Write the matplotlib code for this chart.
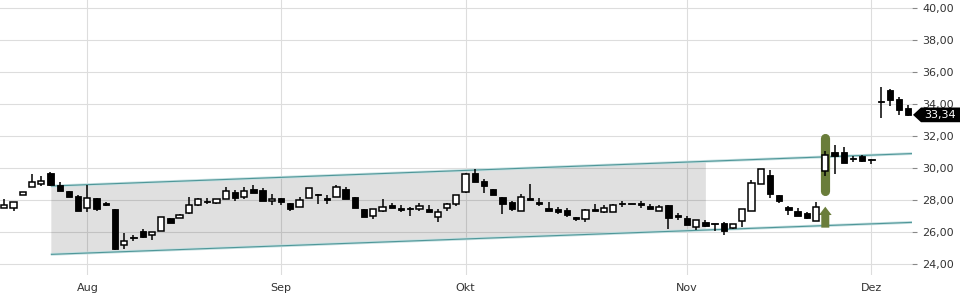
import matplotlib
matplotlib.use("Agg")
import matplotlib.pyplot as plt
from matplotlib.patches import Rectangle, Polygon, FancyArrow
from matplotlib.ticker import FuncFormatter
from matplotlib.transforms import blended_transform_factory

# daily candles (trading days, index 0..98)
opens = [27.53, 27.53, 28.36, 28.84, 29.00, 29.70, 28.98, 28.60, 28.25, 27.53,
         28.17, 27.82, 27.43, 25.22, 25.74, 26.06, 25.86, 26.05, 26.91, 26.91,
         27.22, 27.72, 27.94, 27.82, 28.09, 28.53, 28.19, 28.71, 28.67, 27.94,
         28.15, 27.80, 27.60, 28.15, 28.38, 28.15, 28.22, 28.73, 28.22, 27.47,
         27.02, 27.32, 27.68, 27.49, 27.53, 27.47, 27.43, 26.98, 27.53, 27.74,
         28.50, 29.70, 29.23, 28.71, 28.22, 27.88, 27.32, 28.15, 27.92, 27.53,
         27.43, 27.37, 26.98, 26.85, 27.43, 27.26, 27.28, 27.86, 27.80, 27.84,
         27.66, 27.32, 27.68, 27.06, 26.91, 26.36, 26.64, 26.54, 26.56, 26.29,
         26.71, 27.32, 29.00, 29.56, 28.31, 27.58, 27.31, 27.20, 26.69, 29.83,
         31.02, 31.02, 30.60, 30.75, 30.58, 34.18, 34.89, 34.35, 33.77]
highs = [28.05, 27.88, 28.50, 29.66, 29.50, 29.79, 29.12, 28.60, 28.30, 28.98,
         28.17, 27.90, 27.43, 25.94, 25.86, 26.20, 26.00, 26.98, 26.91, 27.16,
         28.22, 28.12, 28.17, 28.09, 28.84, 28.63, 28.84, 28.98, 28.77, 28.40,
         28.15, 27.85, 28.22, 28.77, 28.42, 28.35, 28.98, 28.84, 28.22, 27.47,
         27.43, 28.09, 27.85, 27.72, 27.55, 27.80, 27.68, 27.43, 27.85, 28.30,
         29.70, 29.95, 29.30, 28.71, 28.22, 27.94, 28.40, 29.04, 28.15, 27.88,
         27.60, 27.53, 26.98, 27.43, 27.74, 27.68, 27.78, 27.98, 27.80, 27.94,
         27.78, 27.68, 27.68, 27.22, 27.00, 26.79, 26.75, 26.54, 26.65, 26.54,
         27.47, 29.29, 29.94, 29.90, 28.31, 27.64, 27.50, 27.25, 27.87, 31.10,
         31.46, 31.31, 30.75, 30.80, 30.58, 35.06, 34.95, 34.45, 33.96]
lows = [27.53, 27.32, 28.30, 28.84, 28.92, 28.90, 28.56, 28.20, 27.32, 27.26,
        27.32, 27.65, 24.90, 24.95, 25.43, 25.65, 25.53, 26.05, 26.58, 26.91,
        27.12, 27.63, 27.76, 27.76, 28.09, 27.94, 28.05, 28.47, 27.94, 27.70,
        27.70, 27.32, 27.60, 28.15, 27.78, 27.78, 28.22, 28.09, 27.53, 26.98,
        26.81, 27.26, 27.50, 27.26, 27.02, 27.30, 27.28, 26.64, 27.32, 27.65,
        28.44, 29.12, 28.47, 28.36, 27.16, 27.36, 27.32, 28.00, 27.65, 27.32,
        27.12, 26.98, 26.69, 26.64, 27.32, 27.20, 27.28, 27.60, 27.80, 27.53,
        27.45, 27.32, 26.19, 26.77, 26.48, 26.15, 26.34, 26.09, 25.84, 26.19,
        26.33, 27.32, 29.00, 28.16, 27.85, 27.10, 27.00, 26.85, 26.69, 29.54,
        29.66, 30.30, 30.41, 30.40, 30.25, 33.12, 33.92, 33.33, 33.30]
closes = [27.68, 27.88, 28.50, 29.17, 29.23, 28.94, 28.56, 28.20, 27.32, 28.17,
          27.43, 27.70, 24.95, 25.44, 25.67, 25.71, 26.00, 26.93, 26.58, 27.10,
          27.72, 28.09, 27.94, 28.09, 28.56, 28.13, 28.56, 28.47, 27.94, 28.09,
          27.88, 27.47, 28.03, 28.77, 28.30, 28.00, 28.84, 28.09, 27.53, 26.98,
          27.43, 27.60, 27.53, 27.37, 27.45, 27.66, 27.28, 27.28, 27.74, 28.30,
          29.64, 29.12, 28.88, 28.36, 27.74, 27.43, 28.22, 28.00, 27.76, 27.32,
          27.26, 27.08, 26.81, 27.37, 27.32, 27.53, 27.68, 27.74, 27.80, 27.68,
          27.45, 27.60, 26.87, 26.95, 26.48, 26.79, 26.42, 26.54, 26.09, 26.54,
          27.47, 29.08, 29.94, 28.37, 27.94, 27.37, 27.00, 26.92, 27.56, 30.81,
          30.79, 30.35, 30.60, 30.47, 30.50, 34.18, 34.27, 33.62, 33.34]

month_pos = [9, 30, 50, 74, 94]
month_labels = ["Aug", "Sep", "Okt", "Nov", "Dez"]
price_ticks = [24, 26, 28, 30, 32, 34, 36, 38, 40]

# trend channel (x in candle index, y in price)
chan_x = [5.04, 98.4]
chan_upper = [28.89, 30.92]
chan_lower = [24.62, 26.62]
shade_end = 76.0

# signal marks
signal_x = 89
signal_bar = [28.61, 31.90]
signal_arrow = [26.29, 27.60]

last_price = closes[-1]

fig = plt.figure(figsize=(9.6, 3), dpi=100)
ax = fig.add_axes([0, 25 / 300, 912 / 960, 275 / 300])
ax.set_xlim(-0.47, 98.4)
ax.set_ylim(23.33, 40.52)

for s in ax.spines.values():
    s.set_visible(False)

ax.set_yticks(price_ticks)
ax.set_xticks(month_pos)
ax.set_xticklabels(month_labels)
ax.yaxis.tick_right()
ax.yaxis.set_major_formatter(FuncFormatter(lambda v, p: f"{v:.2f}".replace(".", ",")))
ax.tick_params(axis="y", length=3.5, width=0.8, color="#888888", pad=4,
               labelsize=8, labelcolor="#333333")
ax.tick_params(axis="x", length=0, pad=5.5, labelsize=8, labelcolor="#333333")
ax.grid(True, color="#dddddd", lw=0.8)
ax.set_axisbelow(True)

# channel shading and lines
def chan_at(xv, ys):
    return ys[0] + (ys[1] - ys[0]) * (xv - chan_x[0]) / (chan_x[1] - chan_x[0])

ax.fill_between([chan_x[0], shade_end],
                [chan_lower[0], chan_at(shade_end, chan_lower)],
                [chan_upper[0], chan_at(shade_end, chan_upper)],
                color="black", alpha=0.12, lw=0, zorder=1)
for ys in (chan_upper, chan_lower):
    ax.plot(chan_x, ys, color="#c4dfe0", lw=2.0, zorder=2, solid_capstyle="butt")
    ax.plot(chan_x, ys, color="#4f9799", lw=0.8, zorder=2, solid_capstyle="butt")

# green signal
ax.plot([signal_x, signal_x], signal_bar, color="#6a7d3a", lw=6.6,
        solid_capstyle="round", zorder=2.5)
ax.add_patch(FancyArrow(signal_x, signal_arrow[0], 0, signal_arrow[1] - signal_arrow[0],
                        width=0.87, head_width=1.38, head_length=0.52,
                        length_includes_head=True, color="#6a7d3a", lw=0, zorder=2.5))

# candles
w = 0.68
for i in range(len(opens)):
    o, h, l, c = opens[i], highs[i], lows[i], closes[i]
    ax.plot([i, i], [l, h], color="black", lw=1.1, zorder=3, solid_capstyle="butt")
    bottom = min(o, c)
    height = abs(c - o)
    if c > o:
        ax.add_patch(Rectangle((i - w / 2, bottom), w, height, fc="white",
                               ec="black", lw=1.1, zorder=4))
    else:
        ax.add_patch(Rectangle((i - w / 2, bottom - 0.035 if height < 0.07 else bottom),
                               w, max(height, 0.07), fc="black", ec="black",
                               lw=0.6, zorder=4))

# last price tag
tr = blended_transform_factory(fig.transFigure, ax.transData)
hh = 0.46
tag = Polygon([(913 / 960, last_price), (921 / 960, last_price + hh), (1, last_price + hh),
               (1, last_price - hh), (921 / 960, last_price - hh)],
              closed=True, fc="black", ec="none", transform=tr, clip_on=False, zorder=10)
fig.add_artist(tag)
fig.text(940 / 960, last_price, f"{last_price:.2f}".replace(".", ","), transform=tr,
         color="white", fontsize=8, ha="center", va="center", zorder=11)

fig.savefig("out.png", dpi=100)
